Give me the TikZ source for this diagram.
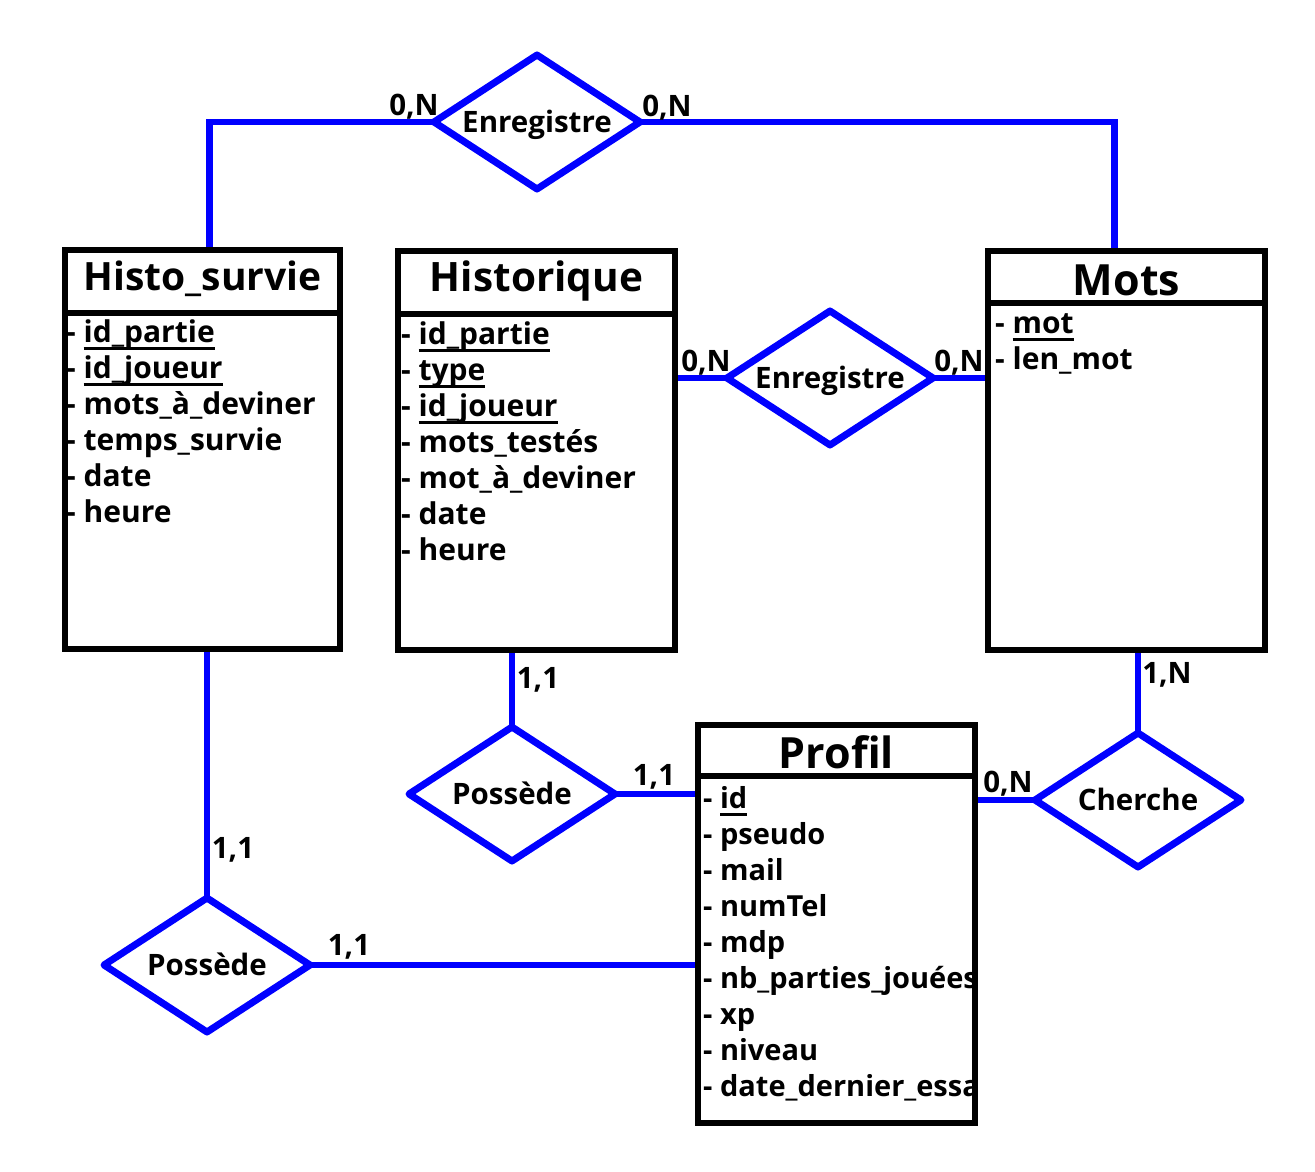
\documentclass[tikz,border=0pt]{standalone}
\usepackage{fontspec}
\setmainfont{Open Sans}
\usetikzlibrary{shapes.geometric,positioning}
\pgfdeclarelayer{bg}
\pgfsetlayers{bg,main}
\newcommand\cle[1]{\setbox0\hbox{#1}\rlap{\rule[-8pt]{\wd0}{2.8pt}}\box0}

\begin{document}
\begin{tikzpicture}[x=1pt,y=-1pt]
\tikzstyle{head}=[draw,line width=6,fill=white,minimum width=277,inner sep=0,outer sep=0,font=\fontsize{39}{46}\selectfont\bfseries,text height=17,text depth=0]
\tikzstyle{big head}=[head,font=\fontsize{43}{50}\selectfont\bfseries,text height=36]
\tikzstyle{body}=[draw,line width=6,fill=white,minimum width=277,inner sep=0,outer sep=0]
\tikzstyle{attr}=[anchor=base west,inner sep=0,font=\fontsize{30}{36}\selectfont\bfseries]
\tikzstyle{assoc}=[diamond,aspect=1.55,draw=blue,line width=7,line join=round,fill=white,minimum width=206,minimum height=134,inner sep=0,outer sep=0,text height=20,text depth=0,font=\fontsize{29.5}{36}\selectfont\bfseries]
\tikzstyle{link}=[draw=blue,line width=6.5]
\tikzstyle{card}=[inner sep=0,text height=20,text depth=0,font=\fontsize{29.5}{36}\selectfont\bfseries]
\useasboundingbox (0,0) rectangle (1315,1172);

\node[head,minimum width=275,minimum height=63] (hsH) at (202.5,281.5) {Histo\_survie};
\node[body,minimum width=275,minimum height=336,below=0pt of hsH] (hsB) {};
\foreach \a [count=\i] in {\cle{id\_partie},\cle{id\_joueur},mots\_à\_deviner,temps\_survie,date,heure}
  \node[attr] (hs\i) at (66,306+36*\i) {- \a};

\node[head,minimum height=63,font=\fontsize{40.5}{48}\selectfont\bfseries] (hiH) at (536.5,282.5) {Historique};
\node[body,minimum height=336,below=0pt of hiH] (hiB) {};
\foreach \a [count=\i] in {\cle{id\_partie},\cle{type},\cle{id\_joueur},mots\_testés,mot\_à\_deviner,date,heure}
  \node[attr] (hi\i) at (401,308+36*\i) {- \a};

\node[big head,minimum height=52] (moH) at (1126.5,277) {Mots};
\node[body,minimum height=347,below=0pt of moH] (moB) {};
\foreach \a [count=\i] in {\cle{mot},len\_mot}
  \node[attr] (mo\i) at (995,297+36*\i) {- \a};

\node[big head,minimum height=51] (pfH) at (836.5,750.5) {Profil};
\node[body,minimum height=347,below=0pt of pfH] (pfB) {};
\begin{scope}
\clip (pfB.north west) rectangle (pfB.south east);
\foreach \a [count=\i] in {\cle{id},pseudo,mail,numTel,mdp,nb\_parties\_jouées,xp,niveau,date\_dernier\_essai}
  \node[attr,font=\fontsize{29}{36}\selectfont\bfseries] (pf\i) at (703,772+36*\i) {- \a};
\end{scope}
\draw[line width=6] (pfB.north west) rectangle (pfB.south east);

\node[assoc] (enr1) at (537,122) {Enregistre};
\node[assoc] (enr2) at (830,378) {Enregistre};
\node[assoc] (pos1) at (512,794) {Possède};
\node[assoc] (pos2) at (207,965) {Possède};
\node[assoc] (cher) at (1138,800) {Cherche};

\begin{pgfonlayer}{bg}
\draw[link] ([xshift=7pt]hsH.north) |- (enr1.west);
\draw[link] (enr1.east) -| ([xshift=-12pt]moH.north);
\draw[link] (enr2.west -| hiB.east) -- (enr2.west);
\draw[link] (enr2.east) -- (enr2.east -| moB.west);
\draw[link] (pos1.north |- hiB.south) -- (pos1.north);
\draw[link] (pos1.east) -- (pos1.east -| pfB.west);
\draw[link] (pos2.north |- hsB.south) -- (pos2.north);
\draw[link] (pos2.east) -- (pos2.east -| pfB.west);
\draw[link] (cher.north |- moB.south) -- (cher.north);
\draw[link] (cher.west) -- (cher.west -| pfB.east);
\end{pgfonlayer}

\node[card] (c1) at (414,105) {0,N};
\node[card] (c2) at (667,106) {0,N};
\node[card] (c3) at (706,361) {0,N};
\node[card] (c4) at (959,361) {0,N};
\node[card] (c5) at (538,678) {1,1};
\node[card] (c6) at (654,775) {1,1};
\node[card] (c7) at (233,848) {1,1};
\node[card] (c8) at (349,945) {1,1};
\node[card] (c9) at (1167,673) {1,N};
\node[card] (c10) at (1008,782) {0,N};
\end{tikzpicture}
\end{document}
